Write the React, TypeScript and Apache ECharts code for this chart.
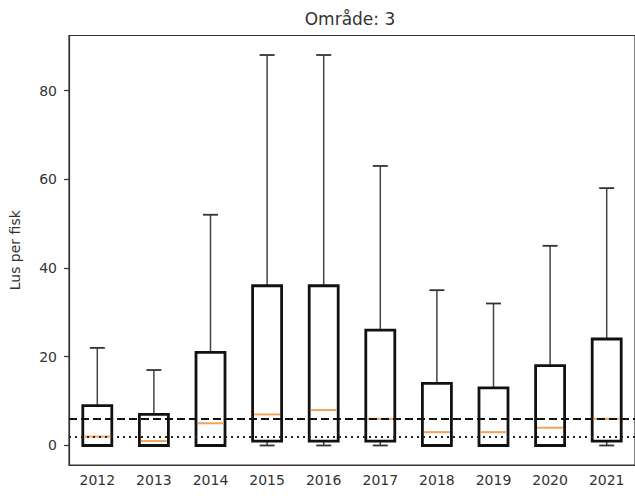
import React, { useEffect, useRef } from "react";
import * as echarts from "echarts";

const years = ["2012", "2013", "2014", "2015", "2016", "2017", "2018", "2019", "2020", "2021"];
const mins = [0, 0, 0, 0, 0, 0, 0, 0, 0, 0];
const q1s = [0, 0, 0, 1, 1, 1, 0, 0, 0, 1];
const medians = [2, 1, 5, 7, 8, 6, 3, 3, 4, 6];
const q3s = [9, 7, 21, 36, 36, 26, 14, 13, 18, 24];
const maxs = [22, 17, 52, 88, 88, 63, 35, 32, 45, 58];
const dashedLevel = 6;
const dottedLevel = 2;
const yTicks = [0, 20, 40, 60, 80];

const FONT = "DejaVu Sans";

export default function App() {
  const ref = useRef<HTMLDivElement>(null);
  useEffect(() => {
    if (!ref.current) return;
    const chart = echarts.init(ref.current, null, { renderer: "svg" });
    const data = years.map((_, i) => [i, mins[i], q1s[i], medians[i], q3s[i], maxs[i]]);
    const option: any = {
      animation: false,
      backgroundColor: "#ffffff",
      graphic: [
        {
          type: "text",
          x: 350,
          y: 19,
          style: {
            text: "Område: 3",
            textAlign: "center",
            textVerticalAlign: "middle",
            font: `17px "${FONT}"`,
            fill: "#333",
          },
        },
      ],
      grid: {
        left: 62.5,
        top: 35.5,
        width: 576,
        height: 429.5,
        show: true,
        borderColor: "#333",
        borderWidth: 1.2,
        backgroundColor: "transparent",
        containLabel: false,
      },
      xAxis: {
        type: "category",
        data: years,
        boundaryGap: true,
        axisLine: { onZero: false, lineStyle: { color: "#333", width: 1.2 } },
        axisTick: { alignWithLabel: true, length: 5, lineStyle: { color: "#333", width: 1.2 } },
        axisLabel: { color: "#333", fontSize: 14, fontFamily: FONT, margin: 8 },
        splitLine: { show: false },
      },
      yAxis: {
        type: "value",
        min: -4.4,
        max: 92.4,
        splitNumber: 5,
        name: "Lus per fisk",
        nameLocation: "middle",
        nameRotate: 90,
        nameGap: 47,
        nameTextStyle: { color: "#333", fontSize: 14, fontFamily: FONT },
        axisLine: { show: true, lineStyle: { color: "#333", width: 1.2 } },
        axisTick: { show: true, length: 5, customValues: yTicks, lineStyle: { color: "#333", width: 1.2 } },
        axisLabel: {
          color: "#333",
          fontSize: 14,
          fontFamily: FONT,
          margin: 12,
          customValues: yTicks,
        },
        splitLine: { show: false },
      },
      series: [
        {
          type: "custom",
          data,
          encode: { x: 0, y: [1, 2, 3, 4, 5] },
          clip: false,
          renderItem: (params: any, api: any) => {
            const x = api.value(0);
            const vMin = api.value(1);
            const vQ1 = api.value(2);
            const vMed = api.value(3);
            const vQ3 = api.value(4);
            const vMax = api.value(5);
            const pMin = api.coord([x, vMin]);
            const pQ1 = api.coord([x, vQ1]);
            const pMed = api.coord([x, vMed]);
            const pQ3 = api.coord([x, vQ3]);
            const pMax = api.coord([x, vMax]);
            const cx = pMin[0];
            const boxW = 29;
            const capW = 15;
            const children: any[] = [];
            const whiskerStyle = { stroke: "#444", lineWidth: 1.5 };
            children.push({
              type: "line",
              shape: { x1: cx, y1: pQ3[1], x2: cx, y2: pMax[1] },
              style: whiskerStyle,
            });
            if (vQ1 > vMin) {
              children.push({
                type: "line",
                shape: { x1: cx, y1: pQ1[1], x2: cx, y2: pMin[1] },
                style: whiskerStyle,
              });
            }
            children.push({
              type: "line",
              shape: { x1: cx - capW / 2, y1: pMax[1], x2: cx + capW / 2, y2: pMax[1] },
              style: { stroke: "#333", lineWidth: 1.8 },
            });
            children.push({
              type: "line",
              shape: { x1: cx - capW / 2, y1: pMin[1], x2: cx + capW / 2, y2: pMin[1] },
              style: { stroke: "#333", lineWidth: 1.8 },
            });
            children.push({
              type: "rect",
              shape: { x: cx - boxW / 2, y: pQ3[1], width: boxW, height: pQ1[1] - pQ3[1] },
              style: { fill: "none", stroke: "#111", lineWidth: 2.8 },
            });
            children.push({
              type: "line",
              shape: { x1: cx - boxW / 2 + 1.5, y1: pMed[1], x2: cx + boxW / 2 - 1.5, y2: pMed[1] },
              style: { stroke: "#f5a35a", lineWidth: 2 },
            });
            return { type: "group", children };
          },
          markLine: {
            silent: true,
            symbol: "none",
            label: { show: false },
            data: [
              { yAxis: dashedLevel, lineStyle: { color: "#111", type: [8, 4], width: 2 } },
              { yAxis: dottedLevel, lineStyle: { color: "#222", type: [2, 4], width: 2 } },
            ],
          },
          z: 3,
        },
      ],
    };
    chart.setOption(option);
    return () => chart.dispose();
  }, []);
  return (
    <div
      ref={ref}
      style={{ position: "fixed", left: 0, top: 0, width: 635, height: 496, background: "#fff" }}
    />
  );
}
